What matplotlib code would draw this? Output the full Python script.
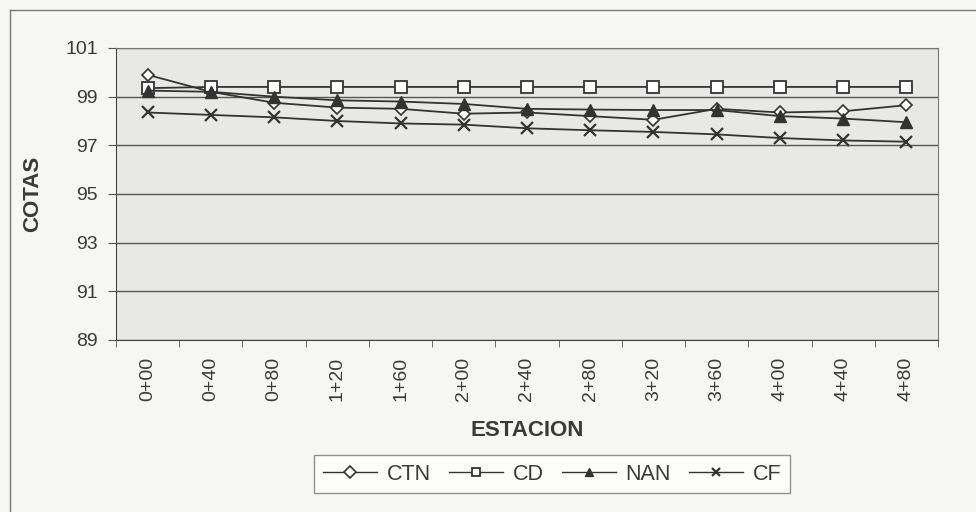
import numpy as np
import matplotlib.pyplot as plt
from matplotlib.lines import Line2D

plt.rcParams['font.family'] = ['Liberation Sans', 'DejaVu Sans']

estaciones = ["0+00", "0+40", "0+80", "1+20", "1+60", "2+00", "2+40",
              "2+80", "3+20", "3+60", "4+00", "4+40", "4+80"]
ctn = [99.9, 99.2, 98.75, 98.55, 98.5, 98.3, 98.35, 98.2, 98.05, 98.5, 98.35, 98.4, 98.65]
cd = [99.35, 99.4, 99.4, 99.4, 99.4, 99.4, 99.4, 99.4, 99.4, 99.4, 99.4, 99.4, 99.4]
nan = [99.25, 99.2, 99.0, 98.85, 98.8, 98.7, 98.5, 98.47, 98.45, 98.45, 98.2, 98.1, 97.95]
cf = [98.35, 98.25, 98.15, 98.0, 97.9, 97.85, 97.7, 97.62, 97.55, 97.45, 97.3, 97.2, 97.15]

fig = plt.figure(figsize=(9.76, 5.12), dpi=100, facecolor='#f6f6f4')
ax = fig.add_axes([116/976, 1 - 340/512, (938 - 116)/976, (340 - 48)/512])
ax.set_facecolor('#e8e8e6')

x = np.arange(len(estaciones))
col = '#333333'
ax.plot(x, ctn, color=col, lw=1.3, marker='D', ms=6.5, mfc='white', mec=col, mew=1.2, label='CTN')
ax.plot(x, cd, color=col, lw=1.3, marker='s', ms=8.5, mfc='white', mec=col, mew=1.3, label='CD')
ax.plot(x, nan, color=col, lw=1.3, marker='^', ms=8.5, mfc=col, mec=col, label='NAN')
ax.plot(x, cf, color=col, lw=1.3, marker='x', ms=9, mec=col, mew=1.6, label='CF')

ax.set_xlim(-0.5, len(estaciones) - 0.5)
ax.set_ylim(89, 101)
ax.set_yticks(range(89, 102, 2))
ax.yaxis.grid(True, color='#555555', lw=1)
ax.set_axisbelow(True)

ax.set_xticks(x)
ax.set_xticklabels(estaciones, rotation=90)
ax.set_xticks(np.arange(-0.5, len(estaciones), 1), minor=True)
ax.tick_params(axis='x', which='major', length=0, pad=12, labelsize=14, colors='#3a3a3a')
ax.tick_params(axis='x', which='minor', length=5, color='#555555')
ax.tick_params(axis='y', length=6, pad=7, labelsize=14, color='#555555', labelcolor='#3a3a3a')

for s in ['top', 'right']:
    ax.spines[s].set_color('#777777')
for s in ['left', 'bottom']:
    ax.spines[s].set_color('#444444')

ax.set_xlabel('ESTACION', fontsize=16, fontweight='bold', color='#3a3a3a', labelpad=14)
ax.set_ylabel('COTAS', fontsize=16, fontweight='bold', color='#3a3a3a', labelpad=16)

leg = fig.legend(loc='center', bbox_to_anchor=(552/976, 1 - 474/512), ncol=4,
                 frameon=True, fancybox=False, fontsize=15.5, handlelength=2.5,
                 handletextpad=0.45, columnspacing=0.85, borderpad=0.4,
                 labelcolor='#3a3a3a')
leg.get_frame().set_edgecolor('#777777')
leg.get_frame().set_facecolor('white')
for h in leg.legend_handles:
    h.set_markersize(6)
    h.set_linewidth(1.0)

fig.add_artist(Line2D([10/976, 10/976], [0, 1 - 10/512], color='#777777', lw=1))
fig.add_artist(Line2D([10/976, 1], [1 - 10/512, 1 - 10/512], color='#777777', lw=1))

fig.savefig('out.png', dpi=100, facecolor=fig.get_facecolor())
